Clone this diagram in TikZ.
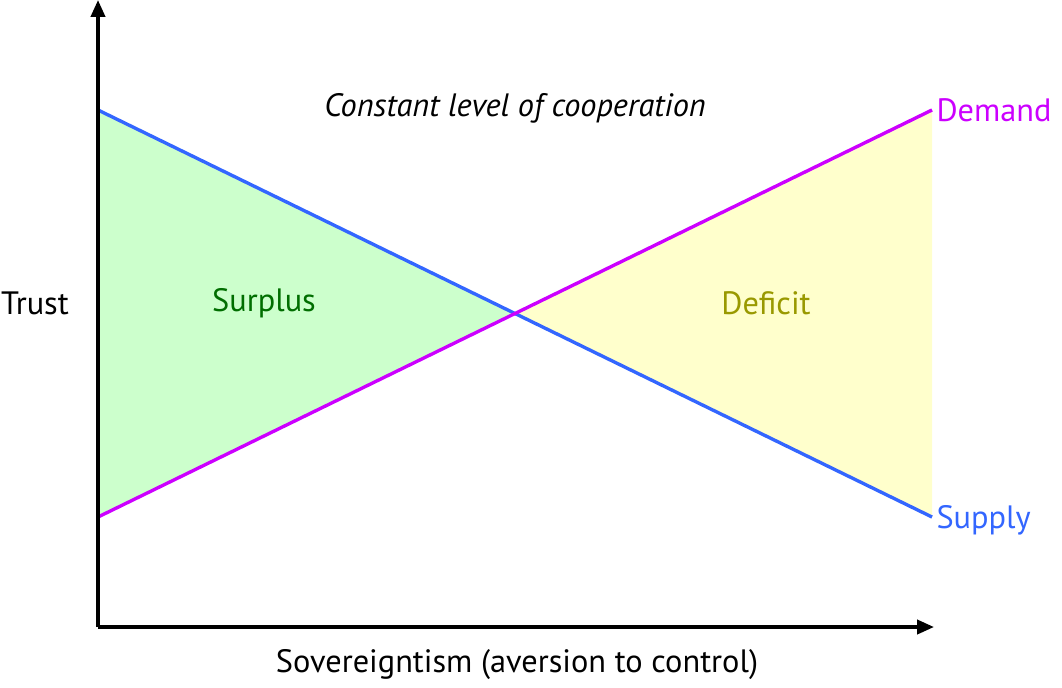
\documentclass[tikz,border=0pt]{standalone}
\usepackage{fontspec}
\setmainfont{PT Sans}
\usetikzlibrary{positioning,arrows.meta}
\tikzset{>={Triangle[length=12pt,width=10pt]}}
\definecolor{supplyblue}{RGB}{51,102,255}
\definecolor{demandpink}{RGB}{204,0,255}
\definecolor{surplusfill}{RGB}{204,255,204}
\definecolor{deficitfill}{RGB}{255,255,204}
\definecolor{surplustext}{RGB}{0,110,0}
\definecolor{deficittext}{RGB}{153,153,0}

\begin{document}
\begin{tikzpicture}[x=0.025cm,y=-0.025cm,font=\fontsize{23}{27}\selectfont]
\useasboundingbox (0,0) rectangle (1062,687);
\coordinate (O) at (98,627);
\coordinate (Ytop) at (98,0);
\coordinate (Xend) at (934,627);
\coordinate (S1) at (98,110);
\coordinate (S2) at (932,517);
\coordinate (D1) at (98,517);
\coordinate (D2) at (932,110);
\coordinate (X) at (515,313);
\fill[surplusfill] (S1) -- (X) -- (D1) -- cycle;
\fill[deficitfill] (X) -- (D2) -- (S2) -- cycle;
\draw[supplyblue,line width=2.4pt] (S1) -- (S2) node[right,inner sep=2pt,yshift=-2pt] (supply) {Supply};
\draw[demandpink,line width=2.4pt] (D1) -- (D2) node[right,inner sep=2pt] (demand) {Demand};
\draw[line width=2.5pt,->] (O) -- (Ytop);
\draw[line width=2.5pt,->] (O) -- (Xend);
\node (trust) at (35,303) {Trust};
\node (sov) at (517,665) {Sovereigntism (aversion to control)};
\node[font=\fontsize{23}{27}\selectfont\itshape] (title) at (515,108) {Constant level of cooperation};
\node[surplustext] (surplus) at (264,303) {Surplus};
\node[deficittext] (deficit) at (766,303) {Deficit};
\end{tikzpicture}
\end{document}
